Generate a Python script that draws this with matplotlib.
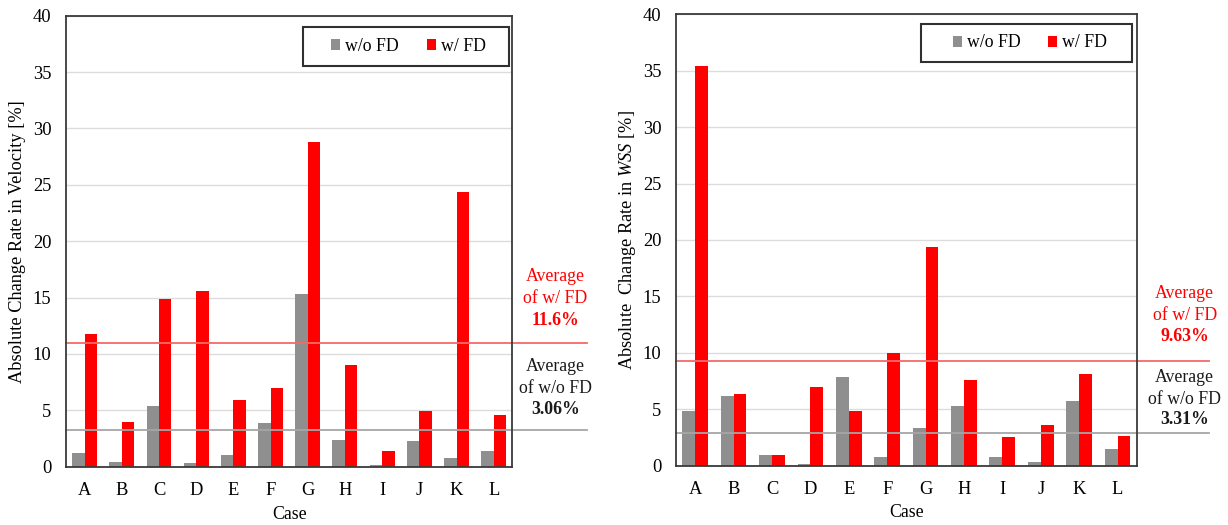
import matplotlib
matplotlib.use("Agg")
import matplotlib.pyplot as plt
import matplotlib.transforms as mtransforms
from matplotlib.patches import Rectangle
import numpy as np

plt.rcParams['font.family'] = ['Liberation Serif', 'DejaVu Serif']
plt.rcParams['mathtext.fontset'] = 'custom'
plt.rcParams['mathtext.rm'] = 'Liberation Serif'
plt.rcParams['mathtext.it'] = 'Liberation Serif:italic'
plt.rcParams['mathtext.bf'] = 'Liberation Serif:bold'

# ---------------- data ----------------
cases = ["A", "B", "C", "D", "E", "F", "G", "H", "I", "J", "K", "L"]
series_names = ["w/o FD", "w/ FD"]

vel_without_fd = [1.2, 0.45, 5.4, 0.35, 1.0, 3.9, 15.3, 2.35, 0.12, 2.3, 0.75, 1.35]
vel_with_fd = [11.75, 3.95, 14.85, 15.55, 5.95, 6.95, 28.8, 9.0, 1.35, 4.9, 24.35, 4.6]
vel_avg_lines = [3.25, 11.0]          # drawn positions (w/o, w/)
vel_avg_labels = ["3.06%", "11.6%"]

wss_without_fd = [4.83, 6.19, 0.9, 0.13, 7.82, 0.75, 3.3, 5.25, 0.72, 0.34, 5.75, 1.46]
wss_with_fd = [35.4, 6.37, 0.9, 6.93, 4.83, 9.97, 19.4, 7.58, 2.53, 3.56, 8.11, 2.64]
wss_avg_lines = [2.88, 9.26]
wss_avg_labels = ["3.31%", "9.63%"]

yticks = [0, 5, 10, 15, 20, 25, 30, 35, 40]

# ---------------- style ----------------
GRAY = "#8f8f8f"
RED = "#ff0000"
W, H = 1228, 525
FS = 12.8

fig = plt.figure(figsize=(W / 100, H / 100), dpi=100)


def px(x, y):
    return x / W, 1 - y / H


def make_panel(rect, without, with_, avg_lines, avg_labels, ylabel, ylab_x, ylab_fs,
               legend_frame, legend_center, line_end, text_x, red_rows, gray_rows):
    ax = fig.add_axes(rect)
    x = np.arange(len(cases))
    bw = 0.335
    ax.bar(x - bw / 2, without, bw, color=GRAY, label=series_names[0], zorder=3)
    ax.bar(x + bw / 2, with_, bw, color=RED, label=series_names[1], zorder=3)
    ax.set_xlim(-0.5, len(cases) - 0.5)
    ax.set_ylim(0, 40)
    ax.set_yticks(yticks)
    ax.set_xticks(x)
    ax.set_xticklabels(cases)
    ax.yaxis.grid(True, color="#dcdcdc", lw=1.0, zorder=0)
    ax.set_axisbelow(True)
    ax.tick_params(axis="both", length=0)
    ax.tick_params(axis="y", labelsize=13.3, pad=10.5)
    ax.tick_params(axis="x", labelsize=13.3, pad=11.0)
    for s in ax.spines.values():
        s.set_color("#3a3a3a")
        s.set_linewidth(1.3)
        s.set_zorder(5)
    ax.set_ylabel(ylabel, fontsize=ylab_fs, va="center")
    ax.yaxis.set_label_coords(ylab_x, 0.5)
    ax.set_xlabel("Case", fontsize=FS, va="center")
    ax.xaxis.set_label_coords(0.5, -0.105)

    # legend
    ax.legend(loc="center", bbox_to_anchor=legend_center, ncol=2,
              frameon=False, fontsize=FS, handlelength=0.5,
              handleheight=0.57, handletextpad=0.28, columnspacing=1.55,
              borderpad=0.0, borderaxespad=0.0)
    x0, x1, y0, y1 = legend_frame
    ax.add_patch(Rectangle((x0, y0), x1 - x0, y1 - y0, transform=ax.transAxes,
                           fill=False, edgecolor="#303030", lw=1.5,
                           clip_on=False, zorder=6))

    # average lines
    trans = mtransforms.blended_transform_factory(ax.transAxes, ax.transData)
    ax.plot([0, line_end], [avg_lines[0]] * 2, color="#a6a6a6", lw=1.3,
            transform=trans, clip_on=False, zorder=4)
    ax.plot([0, line_end], [avg_lines[1]] * 2, color="#f46a6a", lw=1.3,
            transform=trans, clip_on=False, zorder=4)

    # average annotations
    red_texts = ["Average", "of w/ FD", avg_labels[1]]
    gray_texts = ["Average", "of w/o FD", avg_labels[0]]
    for i, (t, yy) in enumerate(zip(red_texts, red_rows)):
        fig.text(*px(text_x, yy + 5.5), t, color=RED, fontsize=FS,
                 ha="center", va="baseline",
                 fontweight="bold" if i == 2 else "normal")
    for i, (t, yy) in enumerate(zip(gray_texts, gray_rows)):
        fig.text(*px(text_x, yy + 5.5), t, color="#1a1a1a", fontsize=FS,
                 ha="center", va="baseline",
                 fontweight="bold" if i == 2 else "normal")
    return ax


make_panel([66 / W, 1 - 466.7 / H, 446.3 / W, 451 / H],
           vel_without_fd, vel_with_fd, vel_avg_lines, vel_avg_labels,
           "Absolute Change Rate in Velocity [%]", -0.1087, 13.2,
           (0.5304, 0.9919, 0.8891, 0.975), (0.7674, 0.9322),
           1.168, 555.3, [275.7, 297.3, 319.3], [365.5, 387.3, 408.7])

make_panel([676 / W, 1 - 465.5 / H, 460.7 / W, 451.2 / H],
           wss_without_fd, wss_with_fd, wss_avg_lines, wss_avg_labels,
           "Absolute  Change Rate in $\\mathit{WSS}$ [%]", -0.1042, 13.2,
           (0.5318, 0.9905, 0.8936, 0.9792), (0.7677, 0.9364),
           1.1565, 1184.8, [292.6, 314.4, 335.5], [376.3, 398.0, 418.7])

fig.savefig("out.png", dpi=100)
